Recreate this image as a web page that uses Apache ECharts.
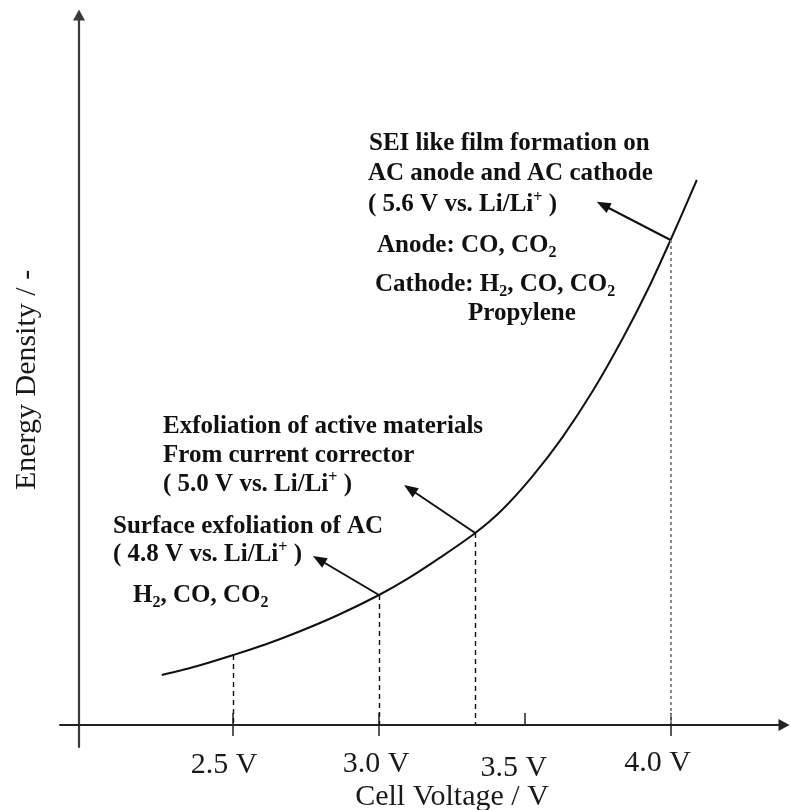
<!DOCTYPE html>
<html>
<head>
<meta charset="utf-8">
<script src="https://cdn.jsdelivr.net/npm/echarts@6/dist/echarts.min.js"></script>
<style>
html,body{margin:0;padding:0;background:#fff;}
#chart{width:791px;height:810px;}
</style>
</head>
<body>
<div id="chart"></div>
<script>
// ---- data ----
const voltage = [2.255, 2.377, 2.50, 2.61, 2.727, 2.86, 3.00, 3.10, 3.208, 3.33,
                 3.42, 3.524, 3.629, 3.733, 3.837, 3.924, 4.00, 4.09];
const energy  = [0.50, 0.59, 0.70, 0.805, 0.935, 1.10, 1.30, 1.466, 1.671, 1.92,
                 2.145, 2.479, 2.877, 3.339, 3.872, 4.367, 4.85, 5.45];
const tickValues = [2.5, 3.0, 3.5, 4.0];
const tickLabels = ['2.5 V', '3.0 V', '3.5 V', '4.0 V'];
const upTickValues = [2.5, 3.0, 3.5, 4.0];
const downTickValues = [2.5, 3.0, 4.0];
const markerVoltage = [2.5, 3.0, 3.33, 4.0];
const markerEnergy  = [0.70, 1.30, 1.92, 4.85];
const arrowFromVoltage = [3.0, 3.33, 4.0];
const arrowFromEnergy  = [1.30, 1.92, 4.85];
const arrowToVoltage = [2.794, 3.106, 3.768];
const arrowToEnergy  = [1.655, 2.36, 5.20];
const xTitle = 'Cell Voltage / V';
const yTitle = 'Energy Density / -';
const notes = [
  'SEI like film formation on',
  'AC anode and AC cathode',
  '( 5.6 V vs. Li/Li{sup|+} )',
  'Anode: CO, CO{sub|2}',
  'Cathode: H{sub|2}, CO, CO{sub|2}',
  'Propylene',
  'Exfoliation of active materials',
  'From current corrector',
  '( 5.0 V vs. Li/Li{sup|+} )',
  'Surface exfoliation of AC',
  '( 4.8 V vs. Li/Li{sup|+} )',
  'H{sub|2}, CO, CO{sub|2}'
];

// ---- layout / style ----
const SERIF = '"Liberation Serif", "Times New Roman", serif';
const notePos = [
  [369, 144], [368, 174], [368, 205], [377, 246], [375, 285], [468, 314],
  [163, 427], [163, 456], [163, 485], [113, 527], [113, 555], [133, 596]
];
const labelPad = [[4, 18, 0, 0], [3, 6, 0, 0], [11, 22, 0, 0], [0, 26, 0, 0]];

const chart = echarts.init(document.getElementById('chart'), null, {renderer: 'canvas'});

const noteRich = {
  sub: {fontFamily: SERIF, fontWeight: 'bold', fontSize: 16, lineHeight: 16, padding: [14, 0, 0, 0], color: '#111'},
  sup: {fontFamily: SERIF, fontWeight: 'bold', fontSize: 16, lineHeight: 16, padding: [0, 0, 14, 0], color: '#111'}
};

const graphic = notes.map((t, i) => ({
  type: 'text',
  x: notePos[i][0],
  y: notePos[i][1],
  silent: true,
  style: {
    text: t,
    fill: '#111',
    fontFamily: SERIF,
    fontWeight: 'bold',
    fontSize: 25,
    lineHeight: 30,
    align: 'left',
    verticalAlign: 'middle',
    rich: noteRich
  }
}));
graphic.push({
  type: 'text', x: 452, y: 797, silent: true,
  style: {text: xTitle, fill: '#1a1a1a', fontFamily: SERIF, fontSize: 30, align: 'center', verticalAlign: 'middle'}
});
graphic.push({
  type: 'text', x: 27, y: 380, rotation: Math.PI / 2, silent: true,
  style: {text: yTitle, fill: '#1a1a1a', fontFamily: SERIF, fontSize: 30, align: 'center', verticalAlign: 'middle'}
});

const labelRich = {};
tickLabels.forEach((l, i) => {
  labelRich['t' + i] = {fontFamily: SERIF, fontSize: 30, lineHeight: 30, color: '#1a1a1a', padding: labelPad[i]};
});

const curveData = voltage.map((v, i) => [v, energy[i]]);

const dropLines = markerVoltage.map((v, i) => {
  const last = i === markerVoltage.length - 1;
  return [
    {coord: [v, markerEnergy[i]], lineStyle: last
      ? {color: '#8a8a8a', width: 2, type: [3, 3]}
      : {color: '#111', width: 1.4, type: [5, 4]}},
    {coord: [v, 0]}
  ];
});

const arrows = arrowFromVoltage.map((v, i) => [
  {coord: [v, arrowFromEnergy[i]]},
  {coord: [arrowToVoltage[i], arrowToEnergy[i]]}
]);

const xCommon = {
  type: 'value', min: 1.906, max: 4.389, position: 'bottom', offset: -22,
  splitLine: {show: false}
};

chart.setOption({
  animation: false,
  backgroundColor: '#fff',
  grid: {left: 60, right: 7, top: 15, bottom: 63, containLabel: false, outerBoundsMode: 'none'},
  xAxis: [
    Object.assign({}, xCommon, {
      axisLine: {show: true, onZero: false, symbol: ['none', 'triangle'], symbolSize: [12, 11],
        lineStyle: {color: '#222', width: 2}},
      axisTick: {show: true, inside: false, length: 11, customValues: downTickValues,
        lineStyle: {color: '#222', width: 1.5}},
      axisLabel: {show: true, margin: 23, customValues: tickValues,
        formatter: function (v) {
          const i = tickValues.findIndex(t => Math.abs(t - v) < 1e-6);
          return i < 0 ? '' : '{t' + i + '|' + tickLabels[i] + '}';
        },
        fontFamily: SERIF, fontSize: 30, color: '#1a1a1a', rich: labelRich}
    }),
    Object.assign({}, xCommon, {
      axisLine: {show: false, onZero: false},
      axisTick: {show: true, inside: true, length: 12, customValues: upTickValues,
        lineStyle: {color: '#222', width: 1.5}},
      axisLabel: {show: false}
    })
  ],
  yAxis: {
    type: 'value', min: -0.22, max: 7.10, offset: -19,
    axisLine: {show: true, onZero: false, symbol: ['none', 'triangle'], symbolSize: [12, 11],
      lineStyle: {color: '#3a3a3a', width: 2.2}},
    axisTick: {show: false},
    axisLabel: {show: false},
    splitLine: {show: false}
  },
  graphic: graphic,
  series: [
    {
      type: 'line', xAxisIndex: 0, data: [], silent: true,
      markLine: {
        silent: true, animation: false, symbol: ['none', 'none'],
        label: {show: false}, data: dropLines
      }
    },
    {
      type: 'line', xAxisIndex: 0, data: curveData, smooth: 0.3, showSymbol: false, silent: true,
      lineStyle: {color: '#111', width: 2}, z: 3,
      markLine: {
        silent: true, animation: false, symbol: ['none', 'triangle'], symbolSize: [11, 14],
        label: {show: false}, lineStyle: {color: '#111', width: 2, type: 'solid'},
        data: arrows
      }
    }
  ]
});
</script>
</body>
</html>
